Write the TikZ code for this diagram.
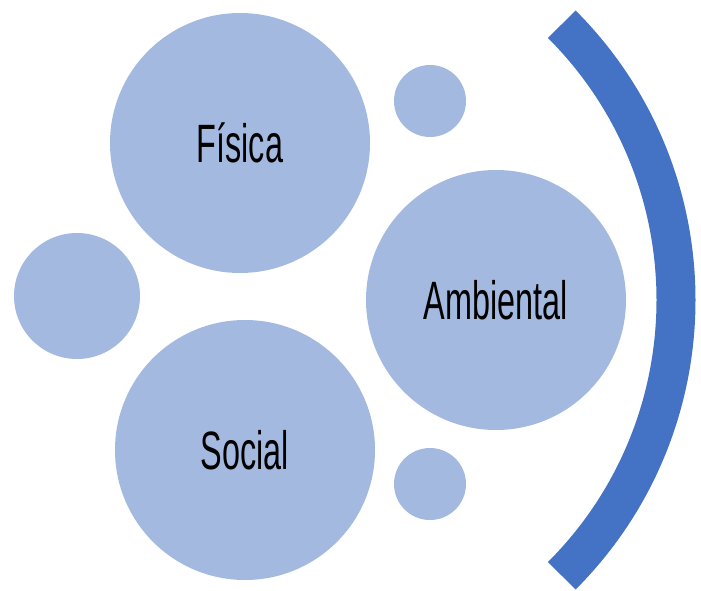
\documentclass[tikz,border=0pt]{standalone}
\usepackage{fontspec}
\newfontfamily\agency[FakeStretch=0.6]{Liberation Sans}
\usetikzlibrary{positioning}
\definecolor{bubble}{HTML}{A3B9E0}
\definecolor{bracket}{HTML}{4472C4}
\tikzstyle{big}=[circle, fill=bubble, minimum size=260pt, inner sep=0, align=center, font=\agency\fontsize{54}{62}\selectfont]
\tikzstyle{dot}=[circle, fill=bubble, inner sep=0]

\begin{document}
\begin{tikzpicture}[x=1pt,y=-1pt]
    \useasboundingbox (0,0) rectangle (701,591);

    % the three big bubbles
    \node [big] (fisica) at (240,143) {Física};
    \node [big] (ambiental) at (496,300) {Ambiental};
    \node [big] (social) at (245,450) {Social};

    % the small ones
    \node [dot, minimum size=126pt] (dotleft) at (77,296) {};
    \node [dot, minimum size=72pt] (dottop) at (430,101) {};
    \node [dot, minimum size=72pt] (dotbottom) at (430,484) {};

    % bracket on the right
    \draw [bracket, line width=39pt] (286,300) ++(-45:390) arc (-45:45:390);
\end{tikzpicture}
\end{document}
